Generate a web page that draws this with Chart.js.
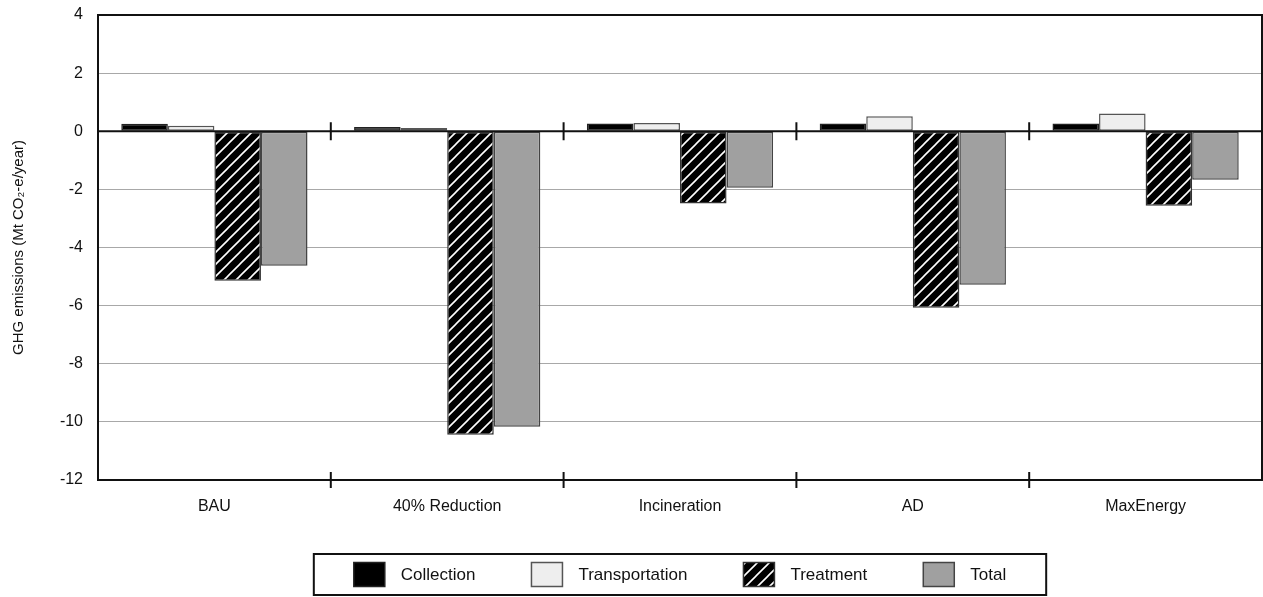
<!DOCTYPE html>
<html>
<head>
<meta charset="utf-8">
<script src="https://cdn.jsdelivr.net/npm/chart.js@4/dist/chart.umd.min.js"></script>
<style>
  html, body { margin: 0; padding: 0; background: #fff; }
  #wrap { width: 1263px; height: 597px; position: relative; }
</style>
</head>
<body>
<div id="wrap"><canvas id="ghgChart"></canvas></div>
<script>
// Scenario data (Mt CO2-e/year)
const scenarios = ['BAU', '40% Reduction', 'Incineration', 'AD', 'MaxEnergy'];
const collection = [0.26, 0.15, 0.27, 0.27, 0.27];
const transportation = [0.19, 0.11, 0.28, 0.52, 0.61];
const treatment = [-5.14, -10.44, -2.49, -6.07, -2.56];
const total = [-4.63, -10.17, -1.94, -5.28, -1.67];
const yMin = -12;
const yMax = 4;
const yStep = 2;

const fontFamily = '"Liberation Sans", Arial, sans-serif';

// Black fill with white diagonal stripes for "Treatment"
function makeHatch() {
    const s = 12;
    const c = document.createElement('canvas');
    c.width = s;
    c.height = s;
    const g = c.getContext('2d');
    g.fillStyle = '#000';
    g.fillRect(0, 0, s, s);
    g.strokeStyle = '#fff';
    g.lineWidth = 1.6;
    g.beginPath();
    g.moveTo(-s / 2, s / 2); g.lineTo(s / 2, -s / 2);
    g.moveTo(0, s); g.lineTo(s, 0);
    g.moveTo(s / 2, s * 1.5); g.lineTo(s * 1.5, s / 2);
    g.stroke();
    return g.createPattern(c, 'repeat');
}
const hatch = makeHatch();

// Plot frame, zero line and category tick marks that cross the axes
const framePlugin = {
    id: 'frame',
    afterDatasetsDraw(chart) {
        const { ctx, chartArea: a, scales: { x, y } } = chart;
        const y0 = y.getPixelForValue(0);
        ctx.save();
        ctx.strokeStyle = '#111';
        ctx.lineWidth = 2;
        ctx.strokeRect(a.left, a.top, a.right - a.left, a.bottom - a.top);
        ctx.beginPath();
        ctx.moveTo(a.left, y0);
        ctx.lineTo(a.right, y0);
        ctx.stroke();
        ctx.beginPath();
        for (let i = 1; i < scenarios.length; i++) {
            const xb = (x.getPixelForValue(i - 1) + x.getPixelForValue(i)) / 2;
            ctx.moveTo(xb, y0 - 9); ctx.lineTo(xb, y0 + 9);
            ctx.moveTo(xb, a.bottom - 8); ctx.lineTo(xb, a.bottom + 8);
        }
        ctx.stroke();
        ctx.restore();
    }
};

// Boxed legend below the plot
const boxLegendPlugin = {
    id: 'boxLegend',
    afterDraw(chart) {
        const { ctx, chartArea: a } = chart;
        const boxW = 31, boxH = 24, textGap = 16, itemGap = 56, pad = 40;
        ctx.save();
        ctx.font = '17px ' + fontFamily;
        const items = chart.data.datasets.map(ds => ({
            label: ds.label,
            fill: ds.backgroundColor,
            border: ds.borderColor,
            w: boxW + textGap + ctx.measureText(ds.label).width
        }));
        const contentW = items.reduce((s, it) => s + it.w, 0) + itemGap * (items.length - 1);
        const frameW = contentW + pad * 2;
        const cx = (a.left + a.right) / 2;
        const frameL = cx - frameW / 2;
        const frameT = 554, frameB = 595;
        const cy = (frameT + frameB) / 2;
        ctx.strokeStyle = '#111';
        ctx.lineWidth = 2;
        ctx.strokeRect(frameL, frameT, frameW, frameB - frameT);
        let xPos = frameL + pad;
        items.forEach(it => {
            ctx.fillStyle = it.fill;
            ctx.fillRect(xPos, cy - boxH / 2, boxW, boxH);
            ctx.strokeStyle = it.border;
            ctx.lineWidth = 1.5;
            ctx.strokeRect(xPos, cy - boxH / 2, boxW, boxH);
            ctx.fillStyle = '#111';
            ctx.textBaseline = 'middle';
            ctx.textAlign = 'left';
            ctx.fillText(it.label, xPos + boxW + textGap, cy + 1);
            xPos += it.w + itemGap;
        });
        ctx.restore();
    }
};

const barCommon = {
    borderWidth: 1.5,
    borderSkipped: false,
    categoryPercentage: 0.8,
    barPercentage: 1.0
};

new Chart(document.getElementById('ghgChart'), {
    type: 'bar',
    data: {
        labels: scenarios,
        datasets: [
            { label: 'Collection', data: collection, backgroundColor: '#000000', borderColor: '#222', ...barCommon },
            { label: 'Transportation', data: transportation, backgroundColor: '#eeeeee', borderColor: '#555', ...barCommon },
            { label: 'Treatment', data: treatment, backgroundColor: hatch, borderColor: '#333', ...barCommon },
            { label: 'Total', data: total, backgroundColor: '#a0a0a0', borderColor: '#444', ...barCommon }
        ]
    },
    options: {
        responsive: true,
        maintainAspectRatio: false,
        animation: false,
        devicePixelRatio: 1,
        layout: { padding: { top: 15, right: 1, bottom: 67, left: 0 } },
        plugins: {
            legend: { display: false },
            tooltip: { enabled: false }
        },
        scales: {
            x: {
                grid: { display: false, drawTicks: false },
                border: { display: false },
                ticks: { color: '#111', font: { size: 16, family: fontFamily }, padding: 17 },
                afterFit: (s) => { s.height = 50; }
            },
            y: {
                min: yMin,
                max: yMax,
                ticks: {
                    stepSize: yStep,
                    color: '#111',
                    padding: 0,
                    font: { size: 16, family: fontFamily }
                },
                grid: {
                    drawTicks: true,
                    tickLength: 15,
                    tickColor: 'rgba(0,0,0,0)',
                    color: (c) => c.tick && c.tick.value === 0 ? '#111' : '#a8a8a8',
                    lineWidth: 1
                },
                border: { display: false },
                title: {
                    display: true,
                    text: 'GHG emissions (Mt CO₂-e/year)',
                    color: '#111',
                    font: { size: 15, family: fontFamily },
                    padding: { top: 10, bottom: 0 }
                },
                afterFit: (s) => { s.width = 98; }
            }
        }
    },
    plugins: [framePlugin, boxLegendPlugin]
});
</script>
</body>
</html>
